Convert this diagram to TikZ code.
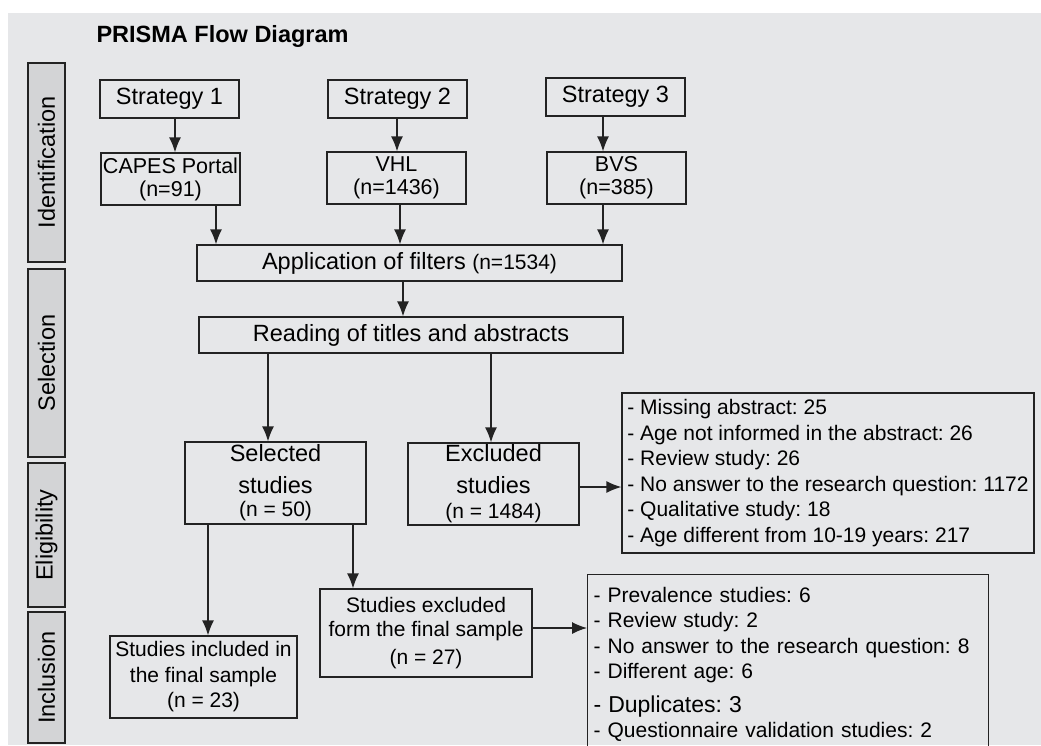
\documentclass[tikz,border=0pt]{standalone}
\usepackage{fontspec}
\setmainfont{Liberation Sans}
\usetikzlibrary{arrows.meta, calc}
\definecolor{mybg}{RGB}{230,231,233}
\definecolor{mystage}{RGB}{211,212,214}
\definecolor{myline}{RGB}{35,35,35}
\frenchspacing

\begin{document}
\begin{tikzpicture}[x=1pt, y=-1pt,
  box/.style={draw=myline, line width=1.3pt, inner sep=0pt, align=center, font=\fontsize{23.5}{26}\selectfont},
  stratbox/.style={box, minimum width=139pt, minimum height=38pt},
  dbbox/.style={box, minimum width=139pt, minimum height=52pt, font=\fontsize{21.5}{23}\selectfont},
  stage/.style={box, fill=mystage, rotate=90, minimum height=37pt},
  arr/.style={draw=myline, line width=1.3pt, -{Latex[length=15pt,width=12pt]}}]
  \useasboundingbox (0,0) rectangle (1041,745);
  \clip (0,0) rectangle (1041,745);
  \fill[mybg] (8,13) rectangle (1041,745);

  \node[anchor=base west, font=\bfseries\fontsize{23.5}{26}\selectfont] (title) at (93,42) {PRISMA Flow Diagram};

  % phases
  \node[stage, minimum width=199pt] (ident) at (46.5,162.5) {Identification};
  \node[stage, minimum width=188pt] (selec) at (46.5,363) {Selection};
  \node[stage, minimum width=144pt] (elig) at (46.5,535) {Eligibility};
  \node[stage, minimum width=131pt] (inclu) at (46.5,677.5) {Inclusion};

  % identification
  \node[stratbox] (s1) at (169.5,99) {Strategy 1};
  \node[stratbox] (s2) at (397.5,99) {Strategy 2};
  \node[stratbox] (s3) at (615.5,97) {Strategy 3};
  \node[dbbox] (capes) at (170.5,179) {CAPES Portal\\(n=91)};
  \node[dbbox] (vhl) at (396.5,178) {VHL\\(n=1436)};
  \node[dbbox] (bvs) at (616.5,178) {BVS\\(n=385)};

  % selection
  \node[box, minimum width=425pt, minimum height=36pt] (filt) at (409.5,263) {Application of filters {\fontsize{21}{24}\selectfont(n=1534)}};
  \node[box, minimum width=424pt, minimum height=36pt] (read) at (411,335) {Reading of titles and abstracts};

  % eligibility
  \node[box, minimum width=181pt, minimum height=82pt, font=\fontsize{23.5}{32}\selectfont] (sel) at (275.5,483) {Selected\\studies\\[-9pt]{\fontsize{21}{23}\selectfont(n = 50)}};
  \node[box, minimum width=171pt, minimum height=82pt, font=\fontsize{23.5}{32}\selectfont] (exc) at (493.5,484) {Excluded\\studies\\[-7pt]{\fontsize{21}{23}\selectfont(n = 1484)}};
  \node[box, align=left, minimum width=412pt, minimum height=160pt, font=\fontsize{21}{25.5}\selectfont] (lst1) at (828,473)
    {- Missing abstract: 25\\- Age not informed in the abstract: 26\\- Review study: 26\\- No answer to the research question: 1172\\- Qualitative study: 18\\- Age different from 10-19 years: 217};

  % inclusion
  \node[box, minimum width=187pt, minimum height=82pt, font=\fontsize{21}{25.5}\selectfont] (incl) at (203.5,677) {Studies included in\\the final sample\\(n = 23)};
  \node[box, minimum width=212pt, minimum height=88pt, font=\fontsize{21}{24}\selectfont] (exc2) at (426,633) {Studies excluded\\form the final sample\\[4pt](n = 27)};
  \node[box, anchor=north west, align=left, text width=389pt, inner xsep=6pt, inner ysep=12.5pt, font=\fontsize{21}{25.5}\selectfont] (lst2) at (587,574)
    {- Prevalence studies: 6\\- Review study: 2\\- No answer to the research question: 8\\- Different age: 6\\[8pt]{\fontsize{23}{25.5}\selectfont - Duplicates: 3}\\- Questionnaire validation studies: 2};

  % arrows
  \foreach \src/\dst/\dx in {s1/capes/5.5, s2/vhl/-0.5, s3/bvs/-12.5, capes/filt/45.5, vhl/filt/3.5, bvs/filt/-13.5,
      filt/read/-6.5, read/sel/-143, read/exc/80, sel/incl/-67.5, sel/exc2/77.5}
    \draw[arr] ($(\src.south)+(\dx,0)$) coordinate (t) -- (t |- \dst.north);
  \draw[arr] ($(exc.east)+(0,3)$) coordinate (t) -- (t -| lst1.west);
  \draw[arr] ($(exc2.east)+(0,-5)$) coordinate (t) -- (t -| lst2.west);
\end{tikzpicture}
\end{document}
